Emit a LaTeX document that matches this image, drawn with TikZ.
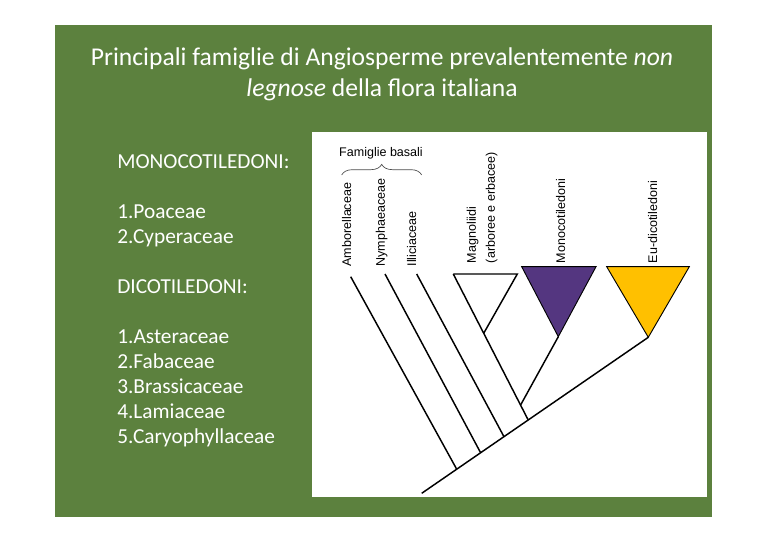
\documentclass[tikz,border=0pt]{standalone}
\usepackage{fontspec}
\setmainfont{Carlito}
\newfontfamily\helv{Liberation Sans}
\usepackage{xcolor}
\usepackage{tikz}
\usetikzlibrary{calc, decorations.pathreplacing}
\definecolor{slide}{RGB}{92,129,62}
\definecolor{monoc}{RGB}{84,54,128}
\definecolor{eudic}{RGB}{255,192,0}
\tikzstyle{title} = [text=white, font=\fontsize{19.2}{23}\selectfont, inner sep=0pt, anchor=base]
\tikzstyle{listitem} = [text=white, font=\fontsize{16}{19}\selectfont, inner sep=0pt, anchor=base west]
\tikzstyle{taxon} = [rotate=90, anchor=west, inner sep=0pt, font=\helv\fontsize{9.4}{11}\selectfont]
\tikzstyle{branch} = [line width=1.1pt, black]
\tikzstyle{clade} = [draw=black, line width=0.7pt]

\begin{document}
\begin{tikzpicture}[x=0.75pt, y=-0.75pt]
	\useasboundingbox (0,0) rectangle (768,543);
	
	% Background
	\fill[slide] (55,25) rectangle (712,517);
	\fill[white] (312,132) rectangle (707,497);
	
	% Title
	\node (title1) [title] at (382,65.5) {Principali famiglie di Angiosperme prevalentemente \textit{non}};
	\node (title2) [title] at (382,96.5) {\textit{legnose} della flora italiana};
	
	% List
	\foreach \y/\txt in {168/MONOCOTILEDONI:, 218/1.Poaceae, 243/2.Cyperaceae, 293/DICOTILEDONI:,
		343/1.Asteraceae, 368/2.Fabaceae, 393/3.Brassicaceae, 418/4.Lamiaceae, 443/5.Caryophyllaceae}
		\node (item\y) [listitem] at (117,\y) {\txt};
	
	% Tree points
	\coordinate (root) at (421.7,493.3);
	\coordinate (eutip) at (648.3,337.3);
	\coordinate (ambtip) at (350.7,276.7);
	\coordinate (nymtip) at (385,274);
	\coordinate (illtip) at (416.7,274);
	\coordinate (magtip) at (453.3,274);
	\coordinate (magr) at (517.3,274);
	\coordinate (monl) at (521.7,266.7);
	\coordinate (monr) at (596,266.7);
	\coordinate (monapex) at (558.3,336.7);
	\coordinate (eul) at (606.7,266.7);
	\coordinate (eur) at (689.3,266.7);
	\coordinate (ambjoin) at ($(root)!0.1545!(eutip)$);
	\coordinate (nymjoin) at ($(root)!0.260!(eutip)$);
	\coordinate (illjoin) at ($(root)!0.363!(eutip)$);
	\coordinate (magjoin) at ($(root)!0.470!(eutip)$);
	\coordinate (magapex) at ($(magtip)!0.406!(magjoin)$);
	\coordinate (monjoin) at ($(magtip)!0.898!(magjoin)$);
	
	% Clades
	\filldraw [clade, fill=monoc] (monl) -- (monr) -- (monapex) -- cycle;
	\filldraw [clade, fill=eudic] (eul) -- (eur) -- (eutip) -- cycle;
	\draw [branch, line join=miter] (magapex) -- (magr) -- (magtip);
	
	% Branches
	\draw [branch] (root) -- (eutip);
	\draw [branch] (ambtip) -- (ambjoin);
	\draw [branch] (nymtip) -- (nymjoin);
	\draw [branch] (illtip) -- (illjoin);
	\draw [branch] (magtip) -- (magjoin);
	\draw [branch] (monapex) -- (monjoin);
	
	% Labels
	\node (amb) [taxon] at (346.7,266.7) {Amborellaceae};
	\node (nym) [taxon] at (381.7,266.7) {Nymphaeaceae};
	\node (ill) [taxon] at (411.7,266.7) {Illiciaceae};
	\node (mag) [taxon] at (472.7,263.3) {Magnoliidi};
	\node (magb) [taxon] at (491.7,263.3) {(arboree e erbacee)};
	\node (mon) [taxon] at (560.7,263.3) {Monocotiledoni};
	\node (eud) [taxon] at (652.7,263.3) {Eu-dicotiledoni};
	
	% Brace
	\node (basal) [inner sep=0pt, font=\helv\fontsize{9.4}{11}\selectfont] at (381,153) {Famiglie basali};
	\coordinate (bracel) at (341.7,175);
	\coordinate (bracer) at (421.7,175);
	\draw [decorate, decoration={brace, amplitude=8pt}, black!70, line width=0.5pt] (bracel) -- (bracer);
	
\end{tikzpicture}
\end{document}
